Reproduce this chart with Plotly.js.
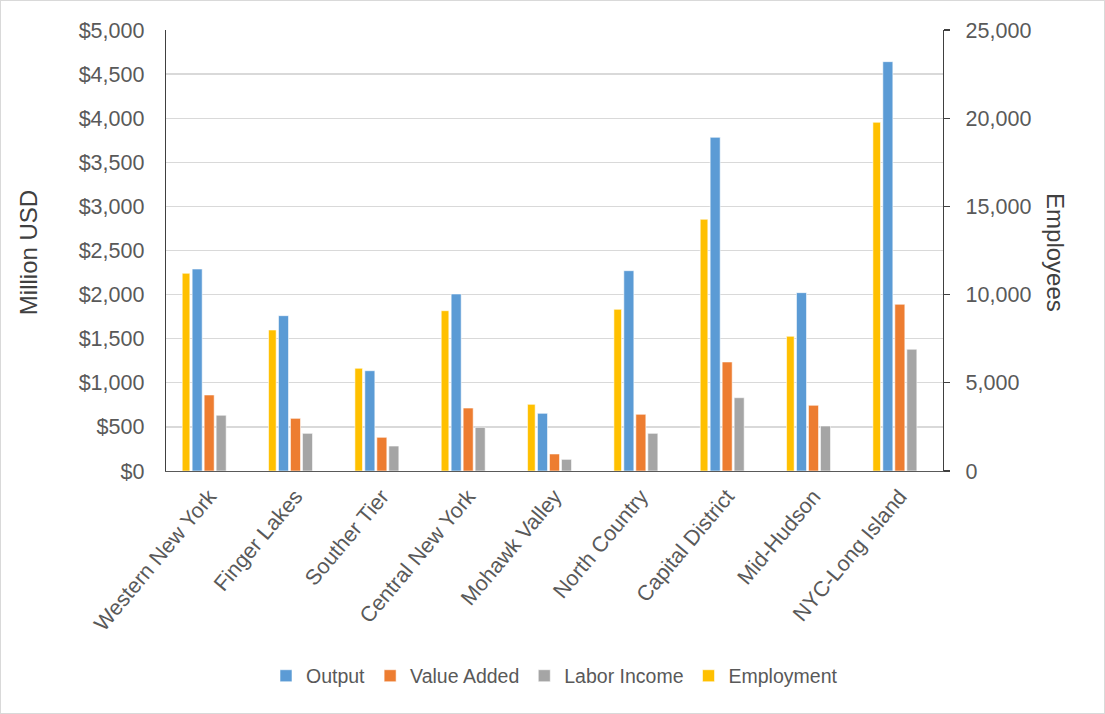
<!DOCTYPE html>
<html>
<head>
<meta charset="utf-8">
<script src="https://cdn.plot.ly/plotly-3.0.1.min.js"></script>
<style>
html,body{margin:0;padding:0;background:#fff;}
#chart{width:1105px;height:714px;box-sizing:border-box;border:1px solid #d9d9d9;}
</style>
</head>
<body>
<div id="chart"></div>
<script>
// ---- data ----
const regions = ["Western New York","Finger Lakes","Souther Tier","Central New York","Mohawk Valley","North Country","Capital District","Mid-Hudson","NYC-Long Island"];
const outputMUSD = [2290, 1761, 1137, 2007, 654, 2271, 3783, 2022, 4641];
const valueAddedMUSD = [862, 597, 382, 714, 193, 643, 1236, 745, 1890];
const laborIncomeMUSD = [632, 427, 283, 495, 132, 427, 831, 510, 1380];
const employment = [11207, 7993, 5822, 9087, 3780, 9165, 14269, 7635, 19767];
const leftTicks = [0,500,1000,1500,2000,2500,3000,3500,4000,4500,5000];
const leftTickLabels = ["$0","$500","$1,000","$1,500","$2,000","$2,500","$3,000","$3,500","$4,000","$4,500","$5,000"];
const rightTicks = [0,5000,10000,15000,20000,25000];
const rightTickLabels = ["0","5,000","10,000","15,000","20,000","25,000"];

// ---- styling ----
const FONT = "Liberation Sans, Arial, sans-serif";
const TXT = "#595959";
const slot = 0.139, wMain = 0.116, wEmp = 0.088;
const edge = {color:"rgba(255,255,255,0.7)", width:0.8};

const traces = [
  {type:"bar", name:"Output", x:regions, y:outputMUSD, yaxis:"y",
   width:wMain, offset:-slot - wMain/2, marker:{color:"#5B9BD5", line:edge}},
  {type:"bar", name:"Value Added", x:regions, y:valueAddedMUSD, yaxis:"y",
   width:wMain, offset:-wMain/2, marker:{color:"#ED7D31", line:edge}},
  {type:"bar", name:"Labor Income", x:regions, y:laborIncomeMUSD, yaxis:"y",
   width:wMain, offset:slot - wMain/2, marker:{color:"#A5A5A5", line:edge}},
  {type:"bar", name:"Employment", x:regions, y:employment, yaxis:"y2",
   width:wEmp, offset:-2*slot - wEmp/2 + 0.01, marker:{color:"#FFC000", line:edge}}
];

const layout = {
  width:1103, height:712,
  margin:{l:165, r:161, t:29, b:242, pad:0},
  paper_bgcolor:"#fff", plot_bgcolor:"#fff",
  barmode:"overlay",
  showlegend:true,
  font:{family:FONT, color:TXT, size:19},
  xaxis:{type:"category", tickangle:-50, tickfont:{size:21.5, color:TXT},
    showline:true, linecolor:"#595959", linewidth:1.3, ticks:"", showgrid:false,
    range:[-0.5, 8.5], ticklabelstandoff:3},
  yaxis:{range:[0,5000], tickmode:"array", tickvals:leftTicks, ticktext:leftTickLabels,
    showgrid:true, gridcolor:"#d9d9d9", gridwidth:1.3, zeroline:false,
    showline:true, linecolor:"#404040", linewidth:1.3, ticks:"",
    tickfont:{size:21.5, color:TXT}, ticklabelstandoff:16},
  yaxis2:{range:[0,25000], tickmode:"array", tickvals:rightTicks, ticktext:rightTickLabels,
    overlaying:"y", side:"right",
    showgrid:false, zeroline:false, showline:true, linecolor:"#404040", linewidth:1.3,
    ticks:"outside", ticklen:6, tickcolor:"#404040", tickwidth:1.3,
    tickfont:{size:21.5, color:TXT}, ticklabelstandoff:11},
  legend:{orientation:"h", x:0.5, xanchor:"center", y:-0.465, yanchor:"middle",
    font:{size:19.5, color:TXT}, traceorder:"normal", itemwidth:30},
  annotations:[
    {text:"Million USD", xref:"paper", yref:"paper", x:-0.177, y:0.495, showarrow:false,
     textangle:-90, font:{size:24, color:"#404040"}, xanchor:"center", yanchor:"middle"},
    {text:"Employees", xref:"paper", yref:"paper", x:1.145, y:0.495, showarrow:false,
     textangle:90, font:{size:24, color:"#404040"}, xanchor:"center", yanchor:"middle"}
  ]
};

Plotly.newPlot("chart", traces, layout, {displayModeBar:false, staticPlot:true});
</script>
</body>
</html>
